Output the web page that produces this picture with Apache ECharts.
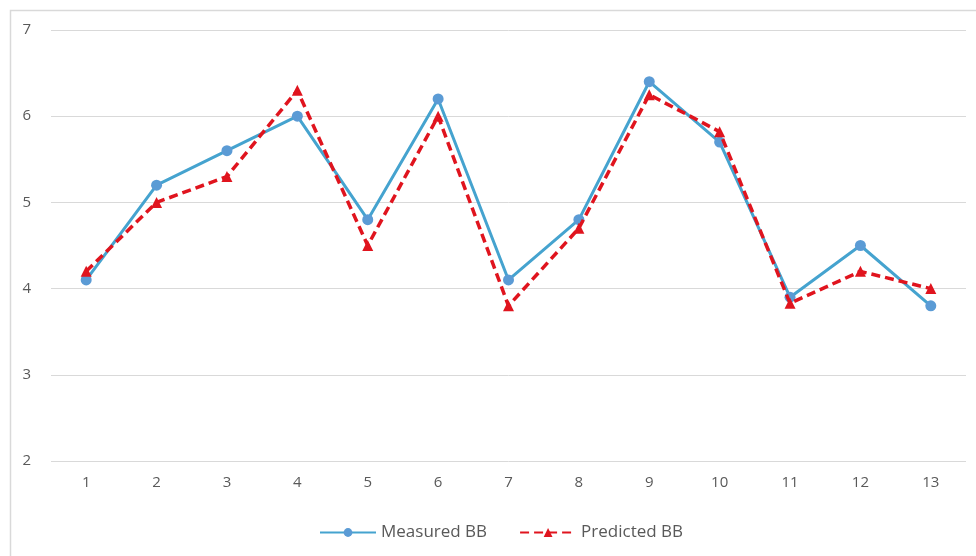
<!DOCTYPE html>
<html>
<head>
<meta charset="utf-8">
<script src="https://cdn.jsdelivr.net/npm/echarts@6/dist/echarts.min.js"></script>
<style>
  html, body { margin: 0; padding: 0; background: #fff; }
  #chart { width: 976px; height: 556px; }
</style>
</head>
<body>
<div id="chart"></div>
<script>
// Sample index along the x axis
const categories = ['1', '2', '3', '4', '5', '6', '7', '8', '9', '10', '11', '12', '13'];
// Measured and predicted BB values
const measuredBB = [4.1, 5.2, 5.6, 6.0, 4.8, 6.2, 4.1, 4.8, 6.4, 5.7, 3.9, 4.5, 3.8];
const predictedBB = [4.2, 5.0, 5.3, 6.3, 4.5, 6.0, 3.8, 4.7, 6.25, 5.82, 3.83, 4.2, 4.0];

const chart = echarts.init(document.getElementById('chart'), null, { renderer: 'canvas' });

const font = 'Open Sans, Liberation Sans, sans-serif';

chart.setOption({
  backgroundColor: '#ffffff',
  animation: false,
  graphic: [{
    type: 'rect',
    left: 8, top: 8,
    shape: { width: 1000, height: 600 },
    style: { fill: 'none', stroke: '#d9d9d9', lineWidth: 1.5 },
    silent: true, z: -1
  }],
  grid: { left: 51, right: 10, top: 30, bottom: 95 },
  legend: {
    bottom: 10,
    left: 314,
    itemWidth: 56,
    itemHeight: 11,
    itemGap: 32,
    textStyle: { color: '#595959', fontSize: 17, fontFamily: font },
    data: ['Measured BB', 'Predicted BB']
  },
  xAxis: {
    type: 'category',
    data: categories,
    boundaryGap: true,
    axisLine: { show: false },
    axisTick: { show: false },
    axisLabel: { color: '#595959', fontSize: 15, fontFamily: font, margin: 14 }
  },
  yAxis: {
    type: 'value',
    min: 2, max: 7, interval: 1,
    axisLine: { show: false },
    axisTick: { show: false },
    axisLabel: { color: '#595959', fontSize: 15, fontFamily: font, margin: 20 },
    splitLine: { lineStyle: { color: '#d9d9d9', width: 1 } }
  },
  series: [
    {
      name: 'Measured BB',
      type: 'line',
      data: measuredBB,
      symbol: 'circle',
      symbolSize: 11,
      lineStyle: { color: '#45a3cf', width: 3 },
      itemStyle: { color: '#5b9bd5' },
      z: 2
    },
    {
      name: 'Predicted BB',
      type: 'line',
      data: predictedBB,
      symbol: 'triangle',
      symbolSize: 11,
      lineStyle: { color: '#e0141e', width: 3.5, type: [9, 5] },
      itemStyle: { color: '#e0141e' },
      z: 3
    }
  ]
});
</script>
</body>
</html>
